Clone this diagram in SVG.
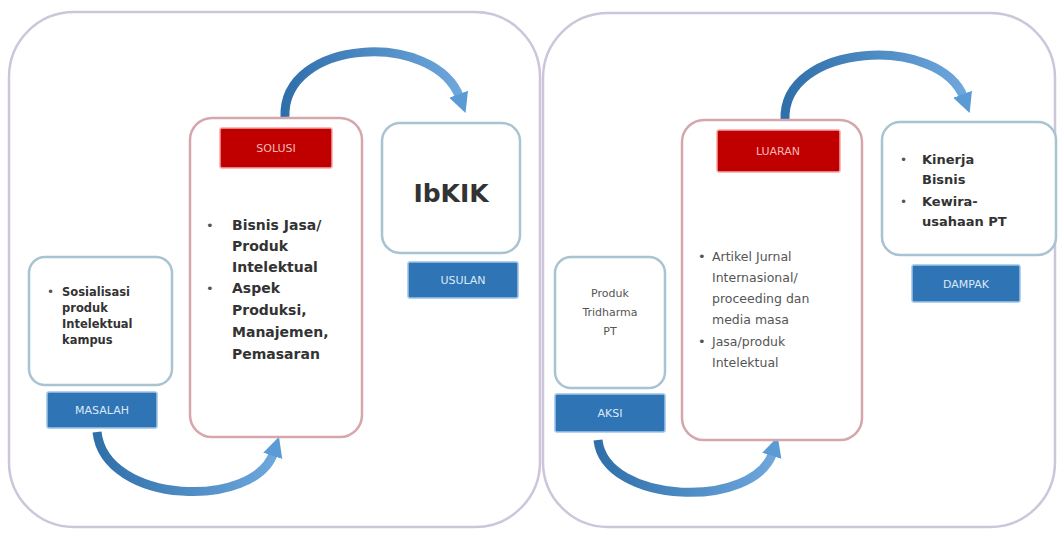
<svg xmlns="http://www.w3.org/2000/svg" width="1059" height="533" viewBox="0 0 1059 533">
<style>
.panel{fill:#fff;stroke:#cdc6da;stroke-width:2.5}
.obox{fill:#fff;stroke:#a9c3d2;stroke-width:2.5}
.pbox{fill:#fff;stroke:#d6a6ad;stroke-width:2.5}
.blue{fill:#2f74b5;stroke:#9dc3e6;stroke-width:1.5}
.red{fill:#c00000;stroke:#f4a6a6;stroke-width:1.5}
.lbl{font-family:"DejaVu Sans",sans-serif;font-size:11px;fill:#dbe9f7;text-anchor:middle}
.lblr{font-family:"DejaVu Sans",sans-serif;font-size:11px;fill:#f6b7b7;text-anchor:middle}
.tb{font-family:"DejaVu Sans",sans-serif;font-weight:bold;fill:#333}
.tn{font-family:"DejaVu Sans",sans-serif;fill:#555}
.arr{fill:none;stroke:url(#ag);stroke-width:9;marker-end:url(#ah)}
</style>
<defs>
<linearGradient id="ag" x1="0" y1="0" x2="1" y2="0">
<stop offset="0" stop-color="#2f6faa"/>
<stop offset="1" stop-color="#6da7dc"/>
</linearGradient>
<marker id="ah" markerUnits="userSpaceOnUse" markerWidth="24" markerHeight="24" refX="4" refY="12" orient="auto" viewBox="0 0 24 24">
<path d="M0 2 L20 12 L0 22 Z" fill="#5b9bd5"/>
</marker>
</defs>
<rect width="1059" height="533" fill="#fff"/>
<g id="panel-left"><rect class="panel" x="9" y="12" width="531" height="515" rx="65"/></g>
<g id="panel-right"><rect class="panel" x="543" y="13" width="512" height="514" rx="65"/></g>
<g id="connectors">
<path class="arr" d="M285 117 C282 38 435 30 460 98"/>
<path class="arr" d="M97 432 C105 505 255 510 274 452"/>
<path class="arr" d="M785 120 C782 42 940 34 964 98"/>
<path class="arr" d="M598 440 C605 505 755 510 773 452"/>
</g>
<g id="masalah">
<rect class="obox" x="29" y="257" width="143" height="128" rx="16"/>
<text class="tn" x="47" y="296" font-size="12">•</text>
<text class="tb" font-size="11.5" font-weight="normal"><tspan x="62" y="296">Sosialisasi</tspan><tspan x="62" y="312">produk</tspan><tspan x="62" y="328">Intelektual</tspan><tspan x="62" y="344">kampus</tspan></text>
<rect class="blue" x="47" y="392" width="110" height="36" rx="2"/>
<text class="lbl" x="102" y="414">MASALAH</text>
</g>
<g id="solusi">
<rect class="pbox" x="190" y="118" width="172" height="319" rx="22"/>
<rect class="red" x="220" y="128" width="112" height="40" rx="2"/>
<text class="lblr" x="276" y="152">SOLUSI</text>
<text class="tn" x="206" y="230" font-size="13">•</text>
<text class="tn" x="206" y="293" font-size="13">•</text>
<text class="tb" font-size="14"><tspan x="232" y="230">Bisnis Jasa/</tspan><tspan x="232" y="251">Produk</tspan><tspan x="232" y="272">Intelektual</tspan><tspan x="232" y="293">Aspek</tspan><tspan x="232" y="315">Produksi,</tspan><tspan x="232" y="337">Manajemen,</tspan><tspan x="232" y="359">Pemasaran</tspan></text>
</g>
<g id="usulan">
<rect class="obox" x="382" y="123" width="138" height="130" rx="18"/>
<text class="tb" x="451" y="202" font-size="25" text-anchor="middle" fill="#222">IbKIK</text>
<rect class="blue" x="408" y="262" width="110" height="36" rx="2"/>
<text class="lbl" x="463" y="284">USULAN</text>
</g>
<g id="aksi">
<rect class="obox" x="555" y="257" width="110" height="131" rx="16"/>
<text class="tn" font-size="11" text-anchor="middle" fill="#444"><tspan x="610" y="297">Produk</tspan><tspan x="610" y="316">Tridharma</tspan><tspan x="610" y="335">PT</tspan></text>
<rect class="blue" x="555" y="394" width="110" height="38" rx="2"/>
<text class="lbl" x="610" y="417">AKSI</text>
</g>
<g id="luaran">
<rect class="pbox" x="682" y="120" width="180" height="320" rx="22"/>
<rect class="red" x="717" y="130" width="123" height="42" rx="2"/>
<text class="lblr" x="778" y="155">LUARAN</text>
<text class="tn" x="698" y="261" font-size="13">•</text>
<text class="tn" x="698" y="346" font-size="13">•</text>
<text class="tn" font-size="12.5"><tspan x="712" y="261">Artikel Jurnal</tspan><tspan x="712" y="282">Internasional/</tspan><tspan x="712" y="303">proceeding dan</tspan><tspan x="712" y="324">media masa</tspan><tspan x="712" y="346">Jasa/produk</tspan><tspan x="712" y="367">Intelektual</tspan></text>
</g>
<g id="dampak">
<rect class="obox" x="882" y="122" width="174" height="133" rx="18"/>
<text class="tn" x="900" y="164" font-size="12">•</text>
<text class="tn" x="900" y="206" font-size="12">•</text>
<text class="tb" font-size="13"><tspan x="922" y="164">Kinerja</tspan><tspan x="922" y="184">Bisnis</tspan><tspan x="922" y="206">Kewira-</tspan><tspan x="922" y="226">usahaan PT</tspan></text>
<rect class="blue" x="912" y="265" width="108" height="37" rx="2"/>
<text class="lbl" x="966" y="288">DAMPAK</text>
</g>
</svg>
